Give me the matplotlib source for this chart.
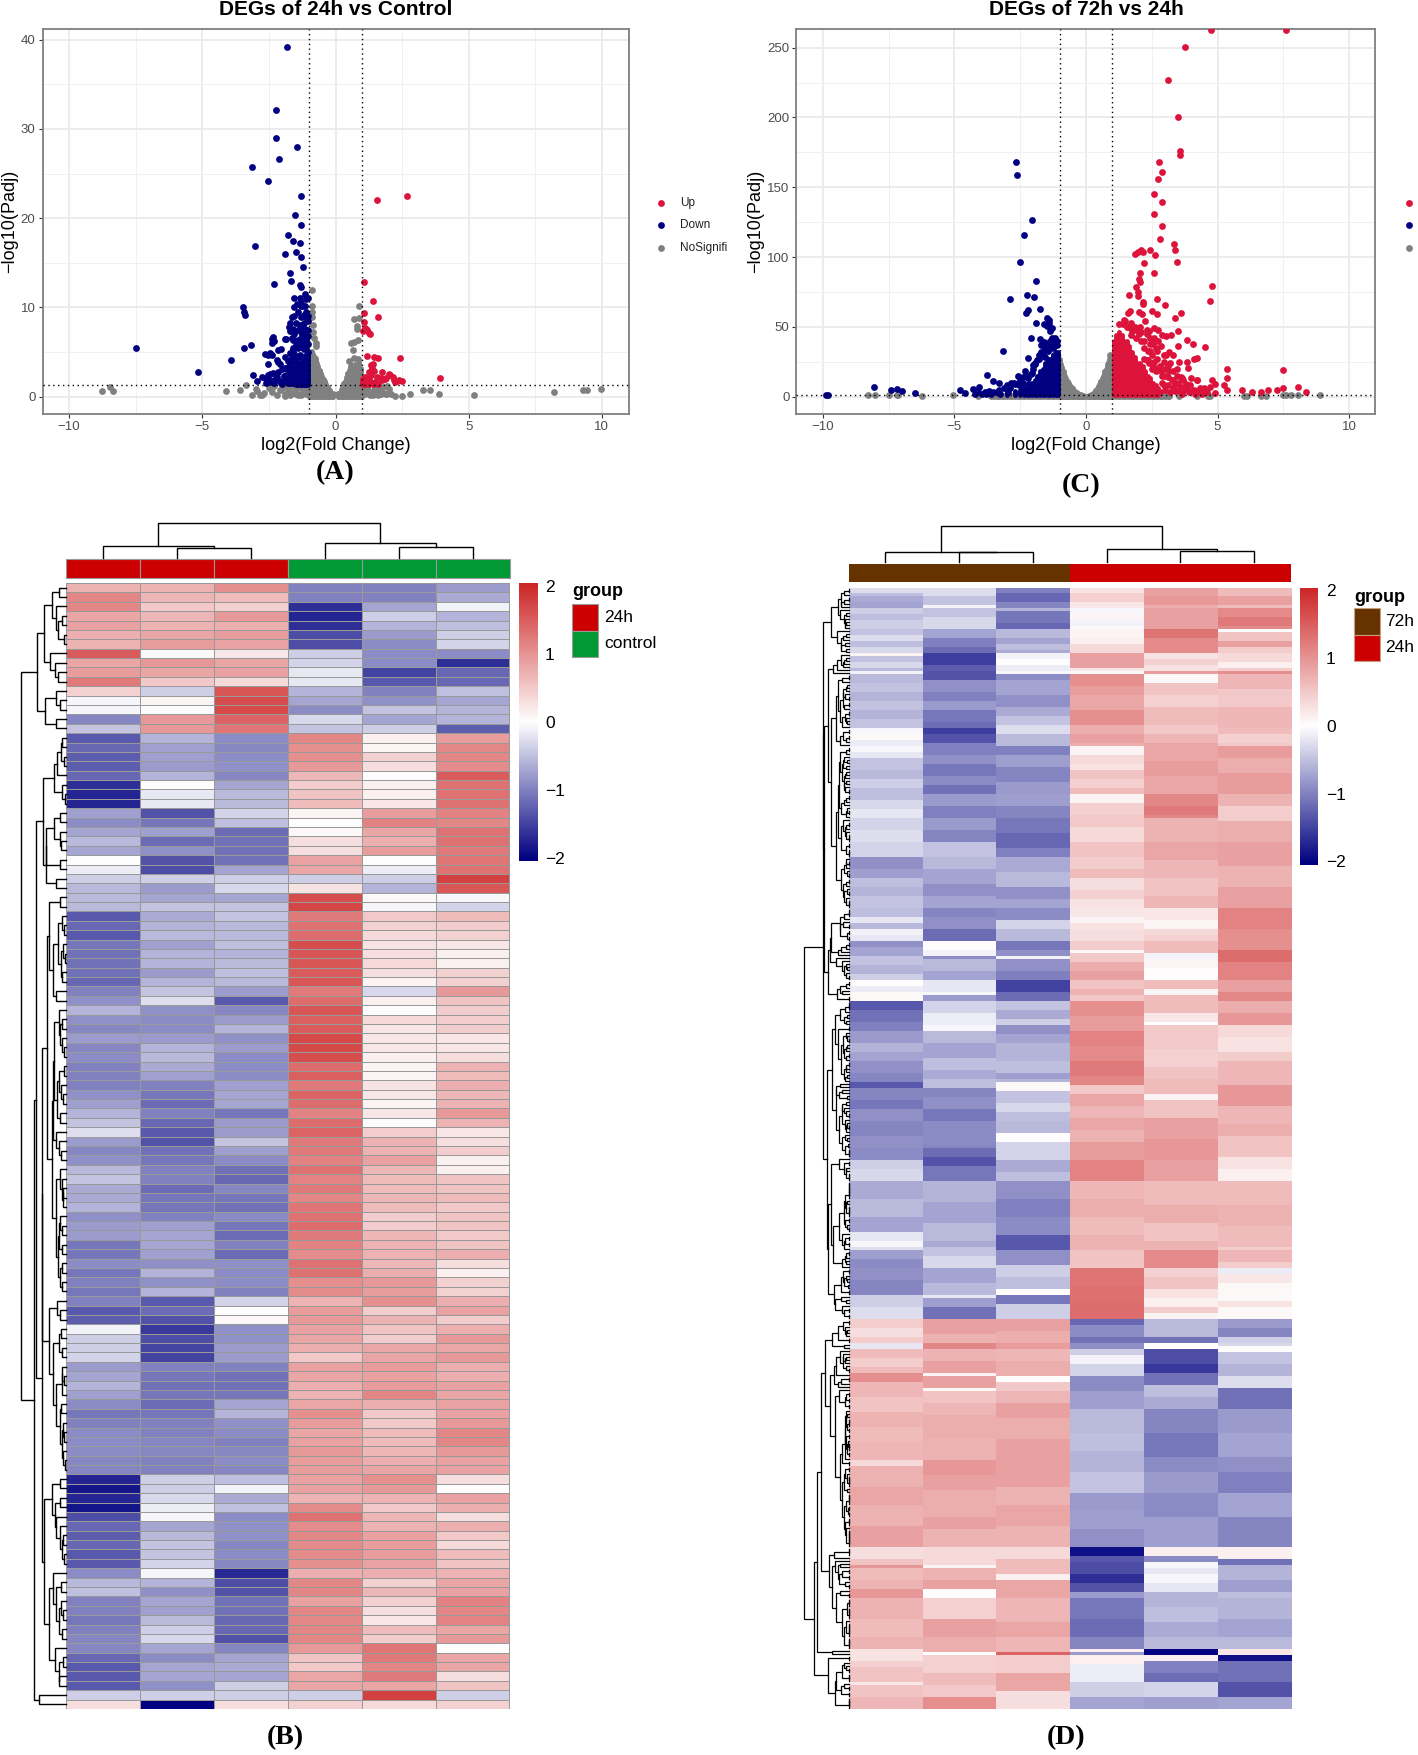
import numpy as np
import matplotlib
matplotlib.use('Agg')
import matplotlib.pyplot as plt
from matplotlib.colors import LinearSegmentedColormap, Normalize
from matplotlib.patches import Rectangle

plt.rcParams['font.family'] = ['Liberation Sans', 'DejaVu Sans']

W, H = 1418, 1755

# ---------- volcano A (24h vs control)
a_red_x = [1.08, 1.42, 1.08, 1.61, 1.08, 1.12, 1.2, 1.03, 1.26, 1.15, 1.28, 1.54, 2.7, 1.19, 1.44, 1.58, 2.43, 1.42, 1.38, 1.24,
           1.74, 3.92, 1.05, 1.1, 1.15, 1.2, 1.25, 1.3, 1.4, 1.5, 1.55, 1.6, 1.7, 1.75, 1.9, 2.0, 2.05, 2.15, 2.25, 2.3, 2.4, 2.5,
           1.05, 1.1, 1.35, 1.45, 1.25, 2.2, 1.02, 1.08, 1.32, 1.85]
a_red_y = [12.8, 10.7, 9.4, 8.9, 8.4, 7.7, 7.5, 7.3, 7.1, 7.6, 7.0, 22.0, 22.45, 4.5, 4.45, 4.3, 4.3, 3.7, 3.2, 2.75,
           2.8, 2.1, 2.0, 1.4, 1.8, 1.5, 2.1, 1.6, 1.4, 1.6, 2.2, 1.4, 2.1, 1.9, 2.1, 2.5, 2.4, 2.2, 1.6, 1.8, 1.9, 1.8,
           1.4, 2.2, 3.5, 2.9, 1.4, 1.9, 1.6, 1.7, 2.4, 2.0]
a_blue_x = [-1.83, -2.23, -2.25, -1.45, -2.11, -3.14, -2.54, -1.31, -1.51, -1.29, -1.77, -1.58, -1.33, -3.03, -1.49, -1.91, -1.29,
            -1.22, -1.72, -1.68, -2.32, -1.35, -1.28, -1.15, -1.56, -1.03, -1.35, -1.28, -3.48, -3.42, -3.4, -7.48, -5.16, -3.92,
            -3.42, -3.17, -3.1, -2.55, -2.45, -2.55, -2.75, -2.6, -2.95, -2.35, -2.2, -2.3, -2.45, -2.6, -2.1, -2.0, -1.9, -2.15,
            -2.0, -1.75, -1.7, -1.6, -1.55, -1.45, -1.8, -2.65, -2.55, -2.4, -2.45, -2.15, -2.05, -2.2, -2.1, -2.15, -2.4, -2.3,
            -2.4, -2.35, -1.9, -1.85, -1.65, -1.6, -1.55, -1.7, -1.75, -1.7, -1.65, -1.55, -1.4, -1.3, -1.15, -1.35, -1.4, -1.25,
            -1.2, -1.15, -1.05, -1.1, -1.3, -1.5, -1.4, -1.3, -1.2, -1.05, -1.55, -1.65, -1.45, -1.35, -1.25, -1.5, -1.4, -1.55,
            -1.3, -1.15, -1.55, -1.45, -1.2, -1.05, -1.05, -1.6, -1.75, -1.85, -1.5, -1.1, -1.25, -1.6, -1.9, -1.45, -1.75,
            -1.1, -1.2, -1.3, -1.5, -1.6, -1.4, -1.25, -1.1, -1.6, -1.7, -1.8, -1.9, -1.55, -1.7, -1.85, -1.65, -1.4, -1.5, -1.7,
            -2.5, -2.3, -1.95, -2.05, -1.15, -1.05, -1.05, -1.25, -1.1]
a_blue_y = [39.2, 32.1, 29.0, 28.0, 26.6, 25.7, 24.2, 22.5, 20.4, 19.2, 18.1, 17.4, 17.2, 16.9, 16.2, 16.0, 15.6,
            14.5, 13.9, 13.0, 12.6, 12.5, 12.3, 11.5, 11.0, 11.0, 11.0, 10.5, 10.0, 9.5, 9.1, 5.4, 2.8, 4.1,
            5.5, 5.76, 2.4, 3.7, 2.5, 2.4, 2.2, 2.0, 1.8, 2.6, 2.2, 1.9, 1.6, 1.5, 1.8, 1.4, 1.7, 2.8,
            3.1, 2.9, 2.2, 1.9, 2.5, 3.3, 1.5, 4.8, 4.7, 4.7, 4.9, 5.2, 5.3, 4.1, 3.6, 3.9, 6.0, 6.2,
            6.5, 6.7, 6.4, 6.5, 6.6, 6.3, 7.0, 7.3, 7.8, 8.3, 8.9, 9.0, 9.5, 8.9, 8.9, 8.0, 7.5, 7.8,
            7.2, 6.8, 6.8, 6.4, 6.6, 5.8, 5.4, 5.6, 5.3, 5.9, 4.8, 4.5, 4.4, 4.7, 4.2, 3.9, 3.6, 3.2,
            10.2, 10.1, 10.0, 10.4, 9.2, 7.5, 5.0, 1.5, 2.0, 2.4, 1.4, 6.0, 7.0, 5.2, 3.2, 2.0, 4.0,
            9.5, 8.2, 7.2, 8.2, 7.6, 6.3, 6.0, 5.6, 5.5, 4.9, 4.0, 4.4, 4.0, 3.5, 3.2, 2.7, 2.5, 1.6, 1.5,
            1.9, 1.5, 2.3, 1.5, 7.6, 8.5, 9.0, 10.2, 10.9]
a_blue_fill_x = [-1.02, -1.06, -1.1, -1.15, -1.2, -1.25, -1.3, -1.35, -1.4, -1.45]
a_blue_fill_top = [5.0, 5.2, 4.8, 4.5, 4.6, 4.0, 3.8, 3.5, 3.4, 2.9]
a_gray_x = [-8.75, -8.45, -8.35, -4.1, -3.6, -3.35, -3.0, -2.95, -3.15, -2.85, -2.7, -2.75, 3.3, 3.55, 3.9, 2.8, 2.5, 2.25, 5.2, 8.2,
            9.3, 9.45, 9.95, -0.87, -0.9, -0.9, -0.85, -0.85, -0.9, -0.75, -0.72, -0.8, 0.9, 0.87, 0.7, 0.8, 0.8, 0.6, 0.7, 0.85, 0.85,
            0.5, 0.7, 0.65, 0.75, -2.5, -2.4, -2.3, -2.2, -2.1, -2.0, -1.9, -1.8, -1.7, -1.6, -1.5, -1.4, -1.3, -1.2, -1.1, -1.9, -1.7,
            -1.5, -1.3, -1.2, 1.1, 1.2, 1.3, 1.4, 1.5, 1.6, 1.7, 1.8, 1.9, 2.0, 2.1, 1.2, 1.4, 1.6, 1.8, 1.95]
a_gray_y = [0.65, 1.1, 0.65, 0.6, 0.7, 1.3, 0.85, 0.6, 0.2, 0.2, 0.4, 0.15, 0.7, 0.7, 0.3, 0.3, 0.1, 0.1, 0.2, 0.55,
            0.7, 0.75, 0.85, 11.9, 10.2, 8.9, 8.0, 7.2, 9.5, 6.0, 5.7, 6.6, 10.2, 8.8, 8.7, 7.9, 7.6, 6.0, 6.1, 6.3, 4.2,
            4.0, 4.3, 5.2, 3.5, 1.0, 0.5, 1.2, 0.2, 0.7, 1.0, 0.1, 0.6, 1.1, 0.4, 0.8, 0.2, 1.0, 0.5, 0.9, 1.2, 0.2,
            1.1, 0.2, 0.8, 0.4, 0.9, 0.2, 0.6, 1.0, 0.2, 0.7, 1.1, 0.3, 0.8, 0.3, 1.1, 0.2, 0.9, 0.4, 1.2]
a_gray_band_x = [-1.9, -1.7, -1.5, -1.3, -1.1, -0.9, -0.7, -0.5, -0.3, -0.1, 0.1, 0.3, 0.5, 0.7, 0.9, 1.1, 1.3, 1.5, 1.7, 1.9]
a_gray_fill_x = [-1.0, -0.95, -0.9, -0.85, -0.8, -0.75, -0.7, -0.65, -0.6, -0.55, -0.5, -0.45, -0.4, -0.35, -0.3, -0.25, -0.2, -0.15, -0.1,
                 0.1, 0.15, 0.2, 0.25, 0.3, 0.35, 0.4, 0.45, 0.5, 0.55, 0.6, 0.65, 0.7, 0.75, 0.8, 0.85, 0.9, 0.95, 1.0]
a_gray_fill_top = [5.0, 5.0, 5.1, 4.8, 4.6, 4.3, 3.8, 3.4, 3.0, 2.7, 2.3, 2.0, 1.7, 1.4, 1.1, 0.9, 0.7, 0.4, 0.2,
                   0.2, 0.4, 0.8, 1.1, 1.5, 1.8, 2.2, 2.6, 3.0, 3.4, 3.7, 3.2, 3.4, 3.2, 3.0, 3.3, 4.0, 3.2, 2.0]

# ---------- volcano C (72h vs 24h)
c_red_x = [4.75, 7.6, 3.75, 3.12, 3.5, 3.57, 3.59, 2.76, 2.88, 2.75, 2.6, 2.89, 2.58, 2.89, 2.8, 3.36, 3.39, 2.43, 2.09, 2.15, 1.96, 1.86,
           2.62, 3.47, 2.2, 2.07, 2.57, 2.02, 2.06, 1.89, 4.8, 1.96, 1.63, 1.96, 2.68, 2.15, 4.7, 2.15, 3.0, 2.52, 2.0, 1.69, 2.12, 2.68,
           3.62, 1.6, 3.37, 3.49, 3.03, 3.22, 3.83, 4.06, 4.52, 3.5, 4.1, 4.2, 3.85, 3.55, 3.88, 3.47, 5.34, 7.5, 5.34, 4.79, 4.9, 5.25,
           5.36, 5.94, 6.32, 6.64, 6.9, 7.24, 7.48, 8.06, 8.37, 4.92,
           1.4, 1.5, 1.7, 1.8, 1.9, 2.1, 2.25, 2.3, 2.4, 2.6, 2.75, 2.9, 2.45, 2.2, 2.0, 1.75, 1.55, 2.55, 2.65, 2.85, 3.05, 3.15, 3.3,
           2.35, 2.5, 2.7, 2.95, 3.1, 3.3, 3.45, 3.6, 3.7, 3.4, 3.25, 3.0, 2.85, 2.7, 2.55, 2.4, 2.3, 2.9, 3.1, 3.3, 3.5, 3.7, 3.9,
           4.1, 4.3, 4.5, 4.7, 3.8, 4.0, 4.2, 4.4, 4.6, 3.6, 3.4, 3.2, 3.0, 2.8, 2.6, 3.65, 3.9, 4.15, 4.4, 3.75, 2.2, 2.45, 2.75, 2.6,
           1.25, 1.45, 1.6, 1.85, 2.05, 2.3, 2.5, 2.45, 2.7, 2.95, 2.6, 2.8, 3.0, 3.2, 2.65, 2.9, 2.5, 3.1, 3.3, 3.5, 3.65, 3.4, 3.8,
           2.35, 2.2, 2.1, 1.9, 1.7, 3.15, 2.95, 3.35, 3.6, 3.95, 4.2, 4.35]
c_red_y = [263, 263, 250.8, 227, 200, 176, 173, 168, 160.7, 155.7, 145.5, 139.6, 131, 122, 112.7, 109, 105.3, 105, 105, 103.4, 103.4, 102.5,
           101.8, 96.3, 96, 88.7, 88.9, 84.2, 82, 78.5, 78.9, 74.9, 72.8, 71.8, 70.1, 68, 68.5, 66.6, 65.9, 61.3, 60.9, 61.3, 59.4, 59.4,
           59.9, 59.9, 56.6, 46.8, 43.3, 44.2, 40.4, 37.6, 35.4, 36.1, 26.6, 27.3, 24.7, 24.7, 20.4, 20, 20, 19, 13.6, 12.1, 8.8, 8,
           4.8, 5, 3.3, 3.3, 4.8, 4.5, 6, 7.1, 3.3, 2.9,
           52, 54, 53, 50, 48, 46, 54, 48, 47, 49, 48, 44, 42, 40, 45, 47, 50, 38, 35, 36, 30, 32, 30,
           33, 30, 27, 25, 22, 18, 15, 14, 12, 9, 12, 15, 18, 20, 22, 24, 26, 10, 8, 6, 5, 4, 4,
           5, 4, 6, 7, 9, 13, 12, 4, 3, 3, 4, 3, 5, 3, 4, 2, 3, 2, 2, 7, 27, 38, 40, 42,
           52, 55, 50, 50, 50, 45, 40, 33, 33, 30, 25, 22, 20, 24, 18, 15, 20, 14, 12, 10, 13, 9, 6,
           26, 35, 40, 42, 44, 18, 8, 5, 7, 8, 12, 6]
c_red_fill_x = [1.05, 1.15, 1.25, 1.35, 1.45, 1.55, 1.65, 1.75, 1.85, 1.95, 2.05, 2.15, 2.25, 2.35, 2.45, 2.55, 2.65, 2.75]
c_red_fill_top = [40, 44, 46, 44, 40, 40, 36, 32, 28, 24, 24, 22, 18, 15, 13, 10, 8, 6]
c_blue_x = [-2.66, -2.62, -2.06, -2.34, -2.52, -1.89, -2.25, -1.96, -2.89, -1.76, -2.22, -2.29, -1.48, -1.41, -1.6, -1.4, -1.91, -1.5, -1.3,
            -1.38, -2.1, -1.74, -1.18, -1.25, -3.16, -2.22, -2.02, -3.75, -3.54, -3.3, -8.06, -7.4, -7.2, -7.0, -6.5, -9.88, -9.82, -4.79,
            -4.6, -4.3, -4.08, -1.7, -1.6, -1.5, -1.35, -1.2, -1.45, -1.7, -1.85, -1.95, -2.05, -1.25, -1.1, -1.55, -2.3, -2.4, -2.5, -2.6,
            -2.7, -2.85, -3.0, -2.25, -2.45, -2.15, -3.1, -3.3, -3.55, -3.7, -3.85, -3.95, -4.1, -3.6, -3.4, -2.9, -2.75, -1.95, -1.8, -2.1,
            -4.2, -3.8, -3.25, -3.0, -2.95, -2.55, -2.35, -1.1, -1.3, -1.55, -1.65, -1.8, -2.0, -2.2, -2.4, -1.6, -1.45, -1.2]
c_blue_y = [168, 159, 126.5, 115.5, 96.3, 82.5, 73, 71.3, 69.9, 63, 62.3, 59.7, 56.6, 55, 52.3, 52.5, 52.5, 50.5, 49,
            46.8, 42, 41, 42, 39, 33, 27.6, 22.6, 15.5, 11.2, 9.5, 6.9, 5, 5.2, 4.3, 2.9, 1.2, 1.2, 4.8,
            2.4, 5.2, 6.9, 37, 39, 38, 40, 36, 33, 32, 26, 23, 17, 35, 37, 28, 18, 14, 12, 15,
            9, 10, 8, 15, 5, 9, 6, 5, 3, 4, 3, 2, 3, 2, 3, 6, 10, 24, 27, 16,
            2, 2, 2, 6, 3, 8, 4, 40, 42, 34, 31, 30, 20, 13, 10, 36, 36, 30]
c_blue_fill_x = [-1.05, -1.15, -1.25, -1.35, -1.45, -1.55, -1.65, -1.75, -1.85, -1.95, -2.05, -2.15, -2.25, -2.35, -2.5, -2.7, -3.0]
c_blue_fill_top = [32, 32, 30, 27, 27, 24, 20, 18, 15, 12, 10, 8, 7, 6, 5, 4, 3]
c_gray_x = [-8.3, -8.0, -7.5, -7.2, -7.15, -6.25, -5.05, -4.1, -3.6, -3.4, -3.2, -3.0, -2.8, -2.6, -2.4, -2.2, -2.0, -1.8, -1.6, -1.4, -1.2,
            1.2, 1.4, 1.6, 1.8, 2.0, 2.2, 2.4, 2.6, 2.8, 3.0, 3.15, 3.55, 4.2, 4.65, 4.7, 6.0, 6.1, 6.65, 6.85, 7.5, 7.6, 7.8, 8.05, 8.9,
            0.9, 0.92, 0.95]
c_gray_y = [1, 1, 1, 1, 1, 0.5, 0.8, 0.5, 0.5, 0.4, 0.5, 0.3, 0.5, 0.4, 0.6, 0.4, 0.5, 0.4, 0.6, 0.3, 0.5,
            0.4, 0.5, 0.4, 0.6, 0.3, 0.5, 0.4, 0.5, 0.4, 0.3, 0.5, 0.3, 0.5, 0.6, 0.4, 0.3, 0.3, 0.5, 0.3, 0.8, 0.8, 0.8, 0.8, 1,
            30, 27, 24]
c_gray_fill_x = [-1.0, -0.95, -0.9, -0.85, -0.8, -0.75, -0.7, -0.65, -0.6, -0.55, -0.5, -0.45, -0.4, -0.35, -0.3, -0.25, -0.2, -0.15, -0.1, -0.05,
                 0.05, 0.1, 0.15, 0.2, 0.25, 0.3, 0.35, 0.4, 0.45, 0.5, 0.55, 0.6, 0.65, 0.7, 0.75, 0.8, 0.85, 0.9, 0.95, 1.0]
c_gray_fill_top = [27, 23, 21, 18, 15, 13, 11, 9.5, 8, 7, 6, 5, 4, 3, 2.5, 2, 1.5, 1, 0.7, 0.5,
                   0.5, 0.7, 1, 1.5, 2.5, 3.5, 4.5, 6, 7.5, 9, 11, 13, 15, 18, 20, 23, 25, 27, 27, 26]
c_gray_band_x = [-3.5, -3.3, -3.1, -2.9, -2.7, -2.5, -2.3, -2.1, -1.9, -1.7, -1.5, -1.3, -1.1, -0.9, -0.7, -0.5, -0.3, -0.1,
                 0.1, 0.3, 0.5, 0.7, 0.9, 1.1, 1.3, 1.5, 1.7, 1.9, 2.1, 2.3, 2.5, 2.7, 2.9, 3.1]

# ---------- heatmap B, rows read top to bottom, 6 samples per row
b_rows = [
    [.7, .7, 1.0, -1.0, -1.0, -.8], [1.1, .65, .6, -1.0, -1.0, -.65], [1.1, .5, .4, -1.6, -.7, -.1], [.8, .65, .95, -1.7, -.4, -.6],
    [.85, .7, .75, -1.6, -.6, -.5], [.75, .8, .9, -1.4, -.8, -.4], [.7, .9, .85, -1.4, -.9, -.35], [1.5, .07, .2, -.4, -.9, -.9],
    [.8, .95, .8, -.35, -.9, -1.6], [.9, .8, .85, -.2, -1.45, -1.2], [1.2, .5, .35, -.2, -1.3, -1.2], [.4, -.4, 1.55, -.6, -1.0, -.5],
    [-.05, .08, 1.6, -.7, -.85, -.7], [-.05, 0, 1.65, -.9, -.45, -.6], [-.95, .95, 1.4, -.3, -.7, -.6], [-.45, .95, 1.25, -.45, -.4, -1.25],
    [-1.3, -.6, -.9, 1.1, .15, .9], [-1.2, -.75, -.95, 1.0, .08, 1.1], [-1.25, -.75, -.9, 1.0, .4, 1.1], [-1.25, -.8, -.85, .95, .3, 1.05],
    [-1.2, -.6, -.95, .65, 0, 1.5], [-1.6, 0, -.7, .45, .15, 1.3], [-1.7, -.2, -.55, .55, .15, 1.3], [-1.7, -.2, -.55, .6, .2, 1.3],
    [-.75, -1.35, -.35, .08, .9, 1.15], [-.9, -1.05, -.5, 0, 1.15, 1.1], [-.7, -.75, -1.15, .05, .8, 1.3], [-.55, -1.15, -1.1, .3, .75, 1.3],
    [-.7, -.85, -1.1, .3, .9, 1.2], [.03, -1.35, -1.1, .85, 0, 1.25], [-.15, -1.4, -.7, .8, -.15, 1.3], [-.4, -.4, -.4, -.4, -.4, 1.75],
    [-.55, -.8, -.3, .25, -.6, 1.55], [-.55, -.7, -.7, 1.6, .06, -.05], [-.55, -.45, -.45, 1.7, -.08, -.35], [-1.3, -.65, -.45, 1.2, .5, .6],
    [-1.2, -.6, -.55, 1.3, .4, .45], [-1.3, -.55, -.55, 1.35, .35, .4], [-1.05, -.75, -.5, 1.6, .25, .2], [-1.1, -.6, -.6, 1.55, .3, .15],
    [-1.1, -.6, -.55, 1.55, .35, .15], [-1.1, -.8, -.5, 1.5, .3, .4], [-1.2, -.6, -.55, 1.55, .1, .4], [-1.0, -.45, -.8, 1.2, -.3, .95],
    [-.85, -.25, -1.3, 1.35, .15, .55], [-.6, -.85, -.95, 1.55, .03, .45], [-.85, -.9, -.8, 1.45, .35, .45], [-.95, -.9, -.6, 1.5, .2, .45],
    [-.8, -.8, -.85, 1.65, .2, .2], [-.95, -.6, -.8, 1.65, .2, .2], [-.9, -.55, -.9, 1.6, .15, .3], [-1.0, -.65, -.9, 1.35, .08, .7],
    [-1.0, -.75, -.9, 1.45, .1, .6], [-1.0, -1.0, -.75, 1.2, .25, .75], [-.85, -1.05, -.7, 1.4, .2, .65], [-.75, -1.15, -.7, 1.35, .1, .7],
    [-.6, -1.0, -1.05, 1.15, .2, .95], [-.45, -1.2, -.8, 1.35, .03, .7], [-.25, -1.3, -.8, 1.4, .45, .2], [-.8, -1.35, -.45, 1.2, .7, .3],
    [-.95, -1.1, -.75, 1.2, .7, .45], [-.85, -1.05, -.9, 1.15, .85, .12], [-.55, -1.0, -1.1, 1.3, .65, .15], [-.45, -1.0, -1.2, 1.15, .6, .55],
    [-.65, -1.15, -.95, 1.2, .6, .55], [-.65, -1.05, -1.05, 1.1, .65, .6], [-.6, -1.05, -1.1, 1.25, .6, .5], [-.85, -1.0, -.9, 1.3, .45, .55],
    [-.8, -.75, -1.05, 1.35, .45, .55], [-.8, -.7, -1.15, 1.2, .65, .5], [-1.05, -.7, -1.0, 1.15, .7, .55], [-1.05, -.75, -1.15, 1.05, .7, .75],
    [-.9, -.85, -.85, 1.3, .65, .3], [-1.05, -.6, -.9, 1.3, .75, .15], [-1.0, -.85, -.9, 1.0, .95, .4], [-1.05, -.6, -1.0, 1.05, .9, .4],
    [-1.0, -1.3, -.35, .7, 1.0, .75], [-1.3, -1.15, 0, .9, .45, .85], [-1.25, -1.35, .05, .95, .7, .45], [-.1, -1.55, -.85, .85, .55, .75],
    [-.4, -1.4, -.85, .8, .45, .95], [-.4, -1.45, -.8, .75, .8, .8], [-.35, -1.45, -.8, .5, .8, .95], [-.8, -1.0, -1.0, .85, .9, .75],
    [-.7, -1.05, -1.1, .8, .85, .75], [-.6, -1.1, -1.1, .75, .9, .85], [-.75, -1.05, -1.05, .7, 1.1, .8], [-.9, -1.15, -.7, .8, .75, .85],
    [-1.05, -1.05, -.6, 1.0, .5, .85], [-1.0, -1.0, -.85, .9, .5, .95], [-.9, -1.0, -.9, .8, .6, 1.1], [-.9, -.95, -1.0, .85, .6, 1.1],
    [-.9, -.95, -.95, .95, .65, .95], [-.95, -1.0, -.9, .9, .75, .85], [-.95, -1.0, -.95, .9, .8, .85], [-1.7, -.4, -.5, .85, 1.0, .3],
    [-1.8, -.4, -.1, .85, .95, 0], [-1.7, -.3, -.65, .7, .7, .85], [-1.8, -.15, -.5, 1.05, .5, .75], [-1.4, -.05, -.9, 1.3, .65, .3],
    [-1.2, -.7, -.85, 1.05, .7, .75], [-1.25, -.55, -.85, 1.1, .85, .5], [-1.2, -.45, -.95, 1.05, .9, .35], [-1.3, -.45, -.9, 1.05, .9, .6],
    [-1.3, -.35, -.95, 1.0, .85, .55], [-.9, -.05, -1.65, .75, .75, .7], [-.55, -.6, -1.4, 1.1, .4, .8], [-.5, -.85, -1.35, 1.1, .65, .85],
    [-1.0, -.7, -1.1, .85, .4, 1.15], [-1.0, -.75, -1.1, 1.1, .3, 1.1], [-1.05, -.55, -1.2, 1.1, .2, 1.15], [-1.0, -.4, -1.2, 1.1, .6, .8],
    [-.95, -.3, -1.35, 1.1, .45, .95], [-.95, -.7, -.95, .95, 1.25, .03], [-1.2, -.9, -.7, .55, 1.2, .8], [-1.3, -.7, -.65, .5, 1.1, .8],
    [-1.3, -.7, -.7, .8, 1.2, .3], [-1.3, -.85, -.4, .8, .8, .55], [-.4, -.4, -.4, -.4, 1.75, -.4], [.3, -2, .3, .4, .35, .4],
]

# ---------- heatmap D, bands per column: (first row of the band, value), 374 rows in all
d_col1 = [(0, -.25), (2, -.5), (3, -.65), (5, -.7), (7, -.4), (9, -.5), (11, -.4), (14, -.45), (16, -.25), (18, -.5), (20, -.3), (22, .1), (23, -.45),
          (25, -.3), (27, -.55), (28, -.1), (29, -.55), (32, -.45), (35, -.6), (38, -.45), (41, -.6), (44, -.45), (47, -.05), (49, .05), (51, -.15),
          (53, -.05), (55, -.2), (57, -.45), (61, -.55), (64, -.4), (67, -.5), (71, -.3), (74, -.2), (77, -.35), (81, -.25), (85, -.35), (90, -.85),
          (94, -.75), (97, -.5), (100, -.6), (103, -.45), (107, -.5), (110, -.2), (112, -.55), (114, -.1), (116, -.2), (118, -.85), (120, -.7),
          (123, -.45), (126, -.6), (129, -.4), (131, .0), (133, -.15), (135, .05), (138, -1.3), (141, -1.1), (145, -1.0), (148, -.8), (152, -.6),
          (155, -.7), (158, -.85), (162, -.95), (165, -1.3), (167, -.95), (171, -1.05), (174, -.85), (178, -.95), (183, -.85), (187, -.9),
          (191, -.4), (194, -.3), (198, -.65), (204, -.55), (210, -.7), (215, -.2), (218, -.05), (220, -.25), (221, -.75), (224, -.9), (227, -.85),
          (231, -.95), (236, -.4), (240, -.25), (244, .45), (247, .3), (250, .45), (252, -.2), (254, .6), (257, .45), (260, .6), (262, 1.0), (265, .65),
          (270, .55), (275, .7), (280, .6), (285, .65), (291, .35), (293, .7), (300, .8), (306, .7), (313, .85), (320, .3), (324, .55), (326, .95),
          (327, .6), (331, .7), (334, .95), (337, .7), (344, .6), (350, .7), (354, .25), (358, .4), (360, .55), (365, .2), (366, .55), (370, .65)]
d_col2 = [(0, -.25), (3, -.45), (6, -.1), (7, -.45), (10, -.3), (14, -.7), (17, -1.0), (20, -1.15), (22, -1.5), (26, -1.25), (28, -1.35), (31, -.85),
          (35, -1.0), (38, -.8), (41, -1.05), (45, -1.15), (47, -1.5), (49, -1.35), (52, -1.0), (56, -.85), (59, -1.05), (63, -.9), (66, -1.1),
          (69, -.8), (73, -1.0), (77, -.8), (81, -.95), (85, -.45), (90, -.55), (94, -.7), (99, -.85), (103, -.7), (107, -.95), (110, -.85),
          (114, -1.15), (118, .0), (121, -.1), (123, -.9), (124, -.55), (128, -.7), (131, -.2), (135, -.05), (136, -.8), (138, -.35), (142, -.15),
          (146, -.05), (148, -.55), (152, -.7), (157, -.5), (161, -.65), (164, -.5), (167, -.95), (170, -.85), (174, -1.05), (178, -.9), (186, -.95),
          (187, -1.15), (190, -1.35), (193, -1.05), (198, -.6), (205, -.7), (212, -.55), (218, -.65), (220, -.45), (223, -.3), (227, -.7), (232, -.55),
          (236, -.2), (237, -.75), (240, -1.1), (244, .85), (249, .7), (252, 1.1), (254, .7), (258, .85), (262, .1), (263, .85), (267, .05), (268, .55),
          (272, .65), (276, .75), (284, .7), (291, .95), (296, .85), (301, .75), (310, .85), (314, .7), (320, .35), (326, .1), (327, .7), (331, .85),
          (334, .03), (337, .4), (344, .85), (350, .75), (355, .03), (356, .4), (362, .6), (366, .5), (370, 1.0)]
d_col3 = [(0, -1.0), (2, -1.2), (5, -.95), (7, -.6), (8, -1.05), (12, -1.2), (14, -.55), (17, -.7), (19, -.5), (21, -.65), (22, -.1), (24, .0), (26, -.15),
          (28, -.05), (29, -.9), (31, -.7), (36, -.85), (40, -.65), (43, -.45), (46, -.25), (49, -.55), (53, -1.0), (56, -.75), (60, -.95), (65, -.8),
          (69, -.75), (73, -.95), (77, -1.05), (82, -1.2), (87, -1.0), (90, -.65), (95, -.55), (100, -.85), (104, -.7), (107, -.9), (111, -.35),
          (114, -.55), (118, -1.05), (121, -.85), (123, -.1), (124, -.85), (128, -1.0), (131, -1.45), (135, -1.15), (138, -.45), (141, -.65), (144, -.4),
          (146, -.85), (149, -.7), (152, -.6), (158, -.5), (162, -.75), (164, -.6), (165, .05), (168, -.45), (172, -.3), (175, -.5), (178, -.55),
          (182, .0), (185, -.35), (191, -.65), (195, -.5), (198, -.85), (204, -1.0), (210, -.9), (216, -1.3), (221, -.85), (226, -.4), (230, -.5),
          (234, .0), (236, -1.05), (239, -.4), (244, .85), (248, .75), (252, .9), (254, .65), (258, .75), (263, .02), (265, .5), (268, .65), (272, .85),
          (277, .75), (284, .85), (291, .85), (300, .7), (306, .8), (313, .7), (320, .35), (324, .6), (329, .15), (331, .8), (337, .65), (345, .8),
          (350, .65), (355, 1.4), (356, .45), (362, .8), (368, .3)]
d_col4 = [(0, .25), (2, .4), (5, .2), (7, -.05), (9, .1), (11, -.1), (13, .05), (14, .1), (17, .15), (19, .35), (22, .85), (27, .2), (28, .05), (29, 1.0),
          (33, .9), (36, .8), (41, 1.0), (46, .75), (49, .85), (52, .75), (53, .08), (56, .35), (59, .25), (61, .55), (64, .4), (67, .6), (69, .1), (72, .4),
          (76, .5), (80, .35), (85, .55), (90, .45), (94, .6), (97, .3), (101, .4), (104, .25), (107, .2), (110, .1), (112, .25), (114, .3), (118, .45),
          (121, .05), (122, .5), (125, .75), (128, .85), (131, .55), (134, .7), (136, .5), (138, 1.0), (143, .9), (148, 1.15), (153, 1.05), (158, 1.2),
          (163, 1.1), (166, .5), (169, .8), (173, .65), (177, .8), (181, .7), (185, .9), (191, 1.15), (198, .65), (204, .75), (210, .6), (216, .7), (221, .55),
          (227, 1.25), (233, 1.3), (238, 1.35), (244, -1.2), (246, -.9), (250, -1.1), (252, -.85), (254, -.4), (256, -.1), (259, -.35), (263, -.9), (268, -.75),
          (274, -.55), (282, -.5), (288, -.6), (295, -.45), (302, -.8), (308, -.75), (314, -.85), (320, -1.85), (323, -1.3), (325, -1.4), (329, -1.6), (332, -1.35),
          (335, -.8), (337, -1.05), (344, -1.15), (350, -.95), (354, .15), (355, -.8), (356, .15), (359, -.15), (365, -.4), (370, -.7)]
d_col5 = [(0, .85), (3, .95), (6, .75), (7, .85), (14, 1.25), (17, 1.05), (22, .25), (24, .4), (26, .25), (28, .9), (29, .06), (32, .55), (36, .4), (40, .6),
          (46, .5), (49, .65), (52, .8), (58, .9), (63, .8), (69, 1.1), (73, 1.2), (76, 1.1), (77, .7), (85, .8), (91, .65), (97, .55), (103, .65), (107, .2),
          (111, .1), (114, .35), (116, .4), (118, .6), (122, -.1), (124, .1), (127, .0), (131, .6), (134, .1), (136, .6), (142, .2), (145, .02), (146, .5),
          (154, .4), (160, .55), (164, .6), (169, .1), (171, .55), (177, .85), (184, .95), (191, .85), (198, .6), (206, .75), (212, .55), (218, .7), (221, 1.05),
          (227, .4), (230, .55), (234, .25), (237, .15), (240, .45), (242, .1), (244, -.55), (250, -1.1), (252, .02), (254, -1.4), (259, -1.55), (262, -1.1), (266, -.5),
          (270, -.65), (274, -.95), (282, -1.05), (290, -.9), (295, -.8), (302, -.9), (310, -.75), (320, .15), (323, -.9), (325, -.05), (327, -.2), (329, -.05),
          (332, -.2), (335, -.6), (340, -.5), (345, -.65), (350, -.55), (354, -1.95), (356, .15), (358, -1.0), (362, -1.15), (365, -.35), (370, -.75)]
d_col6 = [(0, .6), (3, .85), (6, .6), (7, 1.05), (10, 1.2), (13, 1.05), (14, .02), (15, .55), (18, .85), (20, .45), (22, .35), (25, .15), (27, .45), (28, 1.0),
          (29, .65), (34, .5), (40, .65), (47, .6), (49, .4), (52, .5), (53, .9), (57, .75), (62, .9), (69, .7), (73, .45), (78, .75), (85, .85), (93, .7), (100, .85),
          (107, 1.15), (114, 1.0), (121, 1.35), (125, 1.15), (131, .85), (135, 1.1), (138, .75), (142, .95), (146, .35), (150, .25), (155, .45), (158, .65), (166, .95),
          (173, .65), (179, .75), (183, .55), (190, .25), (194, .15), (198, .6), (206, .7), (213, .6), (220, .45), (221, .65), (225, .45), (227, -.15), (229, .2), (232, .05),
          (238, .25), (240, .05), (244, -.8), (247, -.95), (250, -.4), (252, -.3), (253, .0), (255, -.45), (259, -.6), (263, -.25), (267, -1.1), (274, -.8), (282, -.7),
          (290, -.85), (295, -1.0), (302, -.7), (310, -.95), (320, .15), (324, -1.1), (326, -.6), (331, -.75), (335, -.5), (337, -.6), (344, -.7), (350, -.55), (354, .2),
          (356, -1.85), (358, -1.1), (365, -1.35), (370, -.7)]
d_nrows = 374

group_b = ['24h', 'control']
group_d = ['72h', '24h']
volcano_legend = ['Up', 'Down', 'NoSignifi']
RED, BLUE, GRAY = '#DC143C', '#000080', '#808080'
DOT = 24
cmap = LinearSegmentedColormap.from_list('nwr', ['#000080', '#FFFFFF', '#CD2626'], N=100)
norm = Normalize(-2, 2)
fig = plt.figure(figsize=(W / 100, H / 100), dpi=100)


def px_axes(left, top, right, bottom):
    return fig.add_axes([left / W, 1 - bottom / H, (right - left) / W, (bottom - top) / H])


def volcano(box, title, ylim, yticks, yminor, red, blue, gray, red_fill, blue_fill, gray_fill):
    ax = px_axes(*box)
    ax.set_xlim(-11, 11)
    ax.set_ylim(*ylim)
    ax.set_axisbelow(True)
    ax.set_xticks([-10, -5, 0, 5, 10], ['\u221210', '\u22125', '0', '5', '10'])
    ax.set_yticks(yticks)
    ax.set_xticks([-7.5, -2.5, 2.5, 7.5], minor=True)
    ax.set_yticks(yminor, minor=True)
    ax.grid(which='major', color='#EBEBEB', lw=1.3)
    ax.grid(which='minor', color='#F0F0F0', lw=0.7)
    ax.tick_params(which='minor', length=0)
    ax.tick_params(which='major', length=3, width=0.8, color='#333333', labelsize=9.5, labelcolor='#4D4D4D', pad=2)
    for s in ax.spines.values():
        s.set_color('#7F7F7F')
        s.set_linewidth(1.3)
    ax.vlines(gray_fill[0], 0, gray_fill[1], color=GRAY, lw=3.5, capstyle='round', zorder=2)
    ax.scatter(gray[0], gray[1], s=DOT, c=GRAY, lw=0, zorder=2)
    ax.vlines(blue_fill[0], 1.3, blue_fill[1], color=BLUE, lw=3.5, capstyle='round', zorder=3)
    ax.scatter(blue[0], blue[1], s=DOT, c=BLUE, lw=0, zorder=3)
    ax.vlines(red_fill[0], 1.3, red_fill[1], color=RED, lw=3.5, capstyle='round', zorder=3)
    ax.scatter(red[0], red[1], s=DOT, c=RED, lw=0, zorder=3)
    for v in [-1, 1]:
        ax.axvline(v, color='black', lw=1, ls=(0, (1, 2.5)), zorder=4)
    ax.axhline(1.3, color='black', lw=1, ls=(0, (1, 2.5)), zorder=4)
    ax.set_xlabel('log2(Fold Change)', fontsize=13, labelpad=3)
    ax.set_ylabel('\u2212log10(Padj)', fontsize=13, labelpad=2)
    ax.set_title(title, fontsize=15, fontweight='bold', pad=10)


volcano((42.5, 29, 628.5, 414), 'DEGs of 24h vs Control', (-1.95, 41.2), [0, 10, 20, 30, 40], [5, 15, 25, 35],
        (a_red_x, a_red_y), (a_blue_x, a_blue_y),
        (a_gray_x + a_gray_band_x, a_gray_y + [0.3] * len(a_gray_band_x)),
        ([], []), (a_blue_fill_x, a_blue_fill_top), (a_gray_fill_x, a_gray_fill_top))
volcano((796.5, 29, 1375.5, 414), 'DEGs of 72h vs 24h', (-12.5, 263.4), [0, 50, 100, 150, 200, 250], [25, 75, 125, 175, 225],
        (c_red_x, c_red_y), (c_blue_x, c_blue_y),
        (c_gray_x + c_gray_band_x, c_gray_y + [0.5] * len(c_gray_band_x)),
        (c_red_fill_x, c_red_fill_top), (c_blue_fill_x, c_blue_fill_top), (c_gray_fill_x, c_gray_fill_top))


def expand_bands(bands, n):
    col = np.zeros(n)
    for i, (start, val) in enumerate(bands):
        end = bands[i + 1][0] if i + 1 < len(bands) else n
        col[start:end] = val
    return col


def row_tree(m):
    # adjacent rows only, so the order stays the one from the picture
    clusters = [{'lo': i, 'hi': i + 1, 'pos': i + 0.5, 'h': 0.0} for i in range(len(m))]
    segs = []
    while len(clusters) > 1:
        best, best_d = 0, None
        for i in range(len(clusters) - 1):
            a, b = clusters[i], clusters[i + 1]
            d = clusters[i].get('next')
            if d is None:
                diff = m[a['lo']:a['hi'], None, :] - m[None, b['lo']:b['hi'], :]
                d = np.sqrt((diff ** 2).sum(axis=2)).max()
                a['next'] = d
            if best_d is None or d < best_d:
                best, best_d = i, d
        a, b = clusters[best], clusters[best + 1]
        h = max(best_d, a['h'], b['h'])
        segs.append((a['pos'], b['pos'], a['h'], b['h'], h))
        new = {'lo': a['lo'], 'hi': b['hi'], 'pos': (a['pos'] + b['pos']) / 2, 'h': h}
        clusters[best:best + 2] = [new]
        if best > 0:
            clusters[best - 1].pop('next', None)
    return segs, clusters[0]['h']


overlay = fig.add_axes([0, 0, 1, 1], zorder=10)
overlay.set_xlim(0, W)
overlay.set_ylim(H, 0)
overlay.axis('off')
overlay.patch.set_alpha(0)


def draw_row_dend(m, top, bottom, x_leaf, x_root, power, lw):
    segs, hmax = row_tree(m)
    unit = (bottom - top) / len(m)
    to_x = lambda h: x_leaf - (x_leaf - x_root) * (h / hmax) ** power
    for p1, p2, h1, h2, h in segs:
        overlay.plot([to_x(h1), to_x(h), to_x(h), to_x(h2)],
                     [top + p1 * unit, top + p1 * unit, top + p2 * unit, top + p2 * unit],
                     color='black', lw=lw, solid_joinstyle='miter')


def col_dend(leaves, l_y, l1_y, s1_y, r_y, s2_y, root_y):
    # two clusters of three: first leaf joins the pair of the other two
    left_pair = (leaves[1] + leaves[2]) / 2
    right_pair = (leaves[4] + leaves[5]) / 2
    c_left = (leaves[0] + left_pair) / 2
    c_right = (leaves[3] + right_pair) / 2
    lines = [
        ([leaves[1], leaves[1], leaves[2], leaves[2]], [l_y, s1_y, s1_y, l_y]),
        ([leaves[0], leaves[0], left_pair, left_pair], [l_y, l1_y, l1_y, s1_y]),
        ([leaves[4], leaves[4], leaves[5], leaves[5]], [l_y, s2_y, s2_y, l_y]),
        ([leaves[3], leaves[3], right_pair, right_pair], [l_y, r_y, r_y, s2_y]),
        ([c_left, c_left, c_right, c_right], [l1_y, root_y, root_y, r_y]),
    ]
    for xs, ys in lines:
        overlay.plot(xs, ys, color='black', lw=1.0, solid_joinstyle='miter')


def group_legend(x, title_y, tops, labels, colors, edge, text_x):
    overlay.text(x, title_y, 'group', fontsize=13, fontweight='bold', va='center')
    for i, lab in enumerate(labels):
        overlay.add_patch(Rectangle((x, tops[i]), 26, tops[i + 1] - tops[i], fc=colors[i], ec=edge, lw=0.8))
        overlay.text(text_x, (tops[i] + tops[i + 1]) / 2, lab, fontsize=12.5, va='center')


def colorbar(left, right, top, bottom, label_x, label_ys):
    cax = px_axes(left, top, right, bottom)
    cax.imshow(np.linspace(2, -2, 100)[:, None], cmap=cmap, norm=norm, aspect='auto')
    cax.axis('off')
    for lab, y in zip(['2', '1', '0', '\u22121', '\u22122'], label_ys):
        overlay.text(label_x, y, lab, fontsize=12.5, va='center')


# heatmap B
b_vals = np.array(b_rows)
edges_b = np.linspace(66, 509.5, 7)
ax_b = px_axes(66, 583, 509.5, 1709)
ax_b.pcolormesh(np.arange(7), np.arange(len(b_vals) + 1), b_vals, cmap=cmap, norm=norm, edgecolors='#999999', linewidth=0.6)
ax_b.set_ylim(len(b_vals), 0)
ax_b.axis('off')
for i in range(6):
    overlay.add_patch(Rectangle((edges_b[i], 559), edges_b[1] - edges_b[0], 19, fc=['#CC0000', '#009933'][i // 3], ec='#999999', lw=0.8))
draw_row_dend(b_vals, 583, 1709, 66, 21, 0.9, 1.0)
col_dend((edges_b[:-1] + edges_b[1:]) / 2, 557.5, 546, 548, 543, 546.5, 522.5)
colorbar(519, 538, 583, 861, 545, [587, 655, 723, 791, 859])
group_legend(572, 592, [604, 630.5, 657], group_b, ['#CC0000', '#009933'], '#999999', 604)

# heatmap D
d_vals = np.column_stack([expand_bands(c, d_nrows) for c in (d_col1, d_col2, d_col3, d_col4, d_col5, d_col6)])
edges_d = np.linspace(848.5, 1291, 7)
ax_d = px_axes(848.5, 588, 1291, 1709)
ax_d.imshow(d_vals, cmap=cmap, norm=norm, aspect='auto', interpolation='nearest')
ax_d.axis('off')
for i in range(6):
    overlay.add_patch(Rectangle((edges_d[i], 564), edges_d[1] - edges_d[0], 18, fc=['#663300', '#CC0000'][i // 3], ec='none'))
draw_row_dend(d_vals, 588, 1709, 848.5, 804, 0.9, 0.9)
col_dend((edges_d[:-1] + edges_d[1:]) / 2, 561.5, 551.5, 552, 549, 551, 526)
colorbar(1300, 1318, 588, 865, 1326, [591, 659, 727, 795, 862])
group_legend(1354, 597, [608, 635, 661], group_d, ['#663300', '#CC0000'], '#C8A080', 1385)

# volcano legends, the second runs off the right edge of the picture
for y, col, lab in zip([203, 225, 248], [RED, BLUE, GRAY], volcano_legend):
    overlay.scatter([661], [y], s=DOT, c=col, lw=0)
    overlay.text(680, y, lab, fontsize=8.5, va='center', color='#222222')
    overlay.scatter([1409], [y], s=DOT, c=col, lw=0)

for x, y, lab in [(335, 473, '(A)'), (1081.5, 486, '(C)'), (285, 1738, '(B)'), (1066, 1738, '(D)')]:
    overlay.text(x, y, lab, family=['Liberation Serif', 'DejaVu Serif'], fontsize=20, fontweight='bold', ha='center', va='center')

fig.savefig('out.png', dpi=100)
